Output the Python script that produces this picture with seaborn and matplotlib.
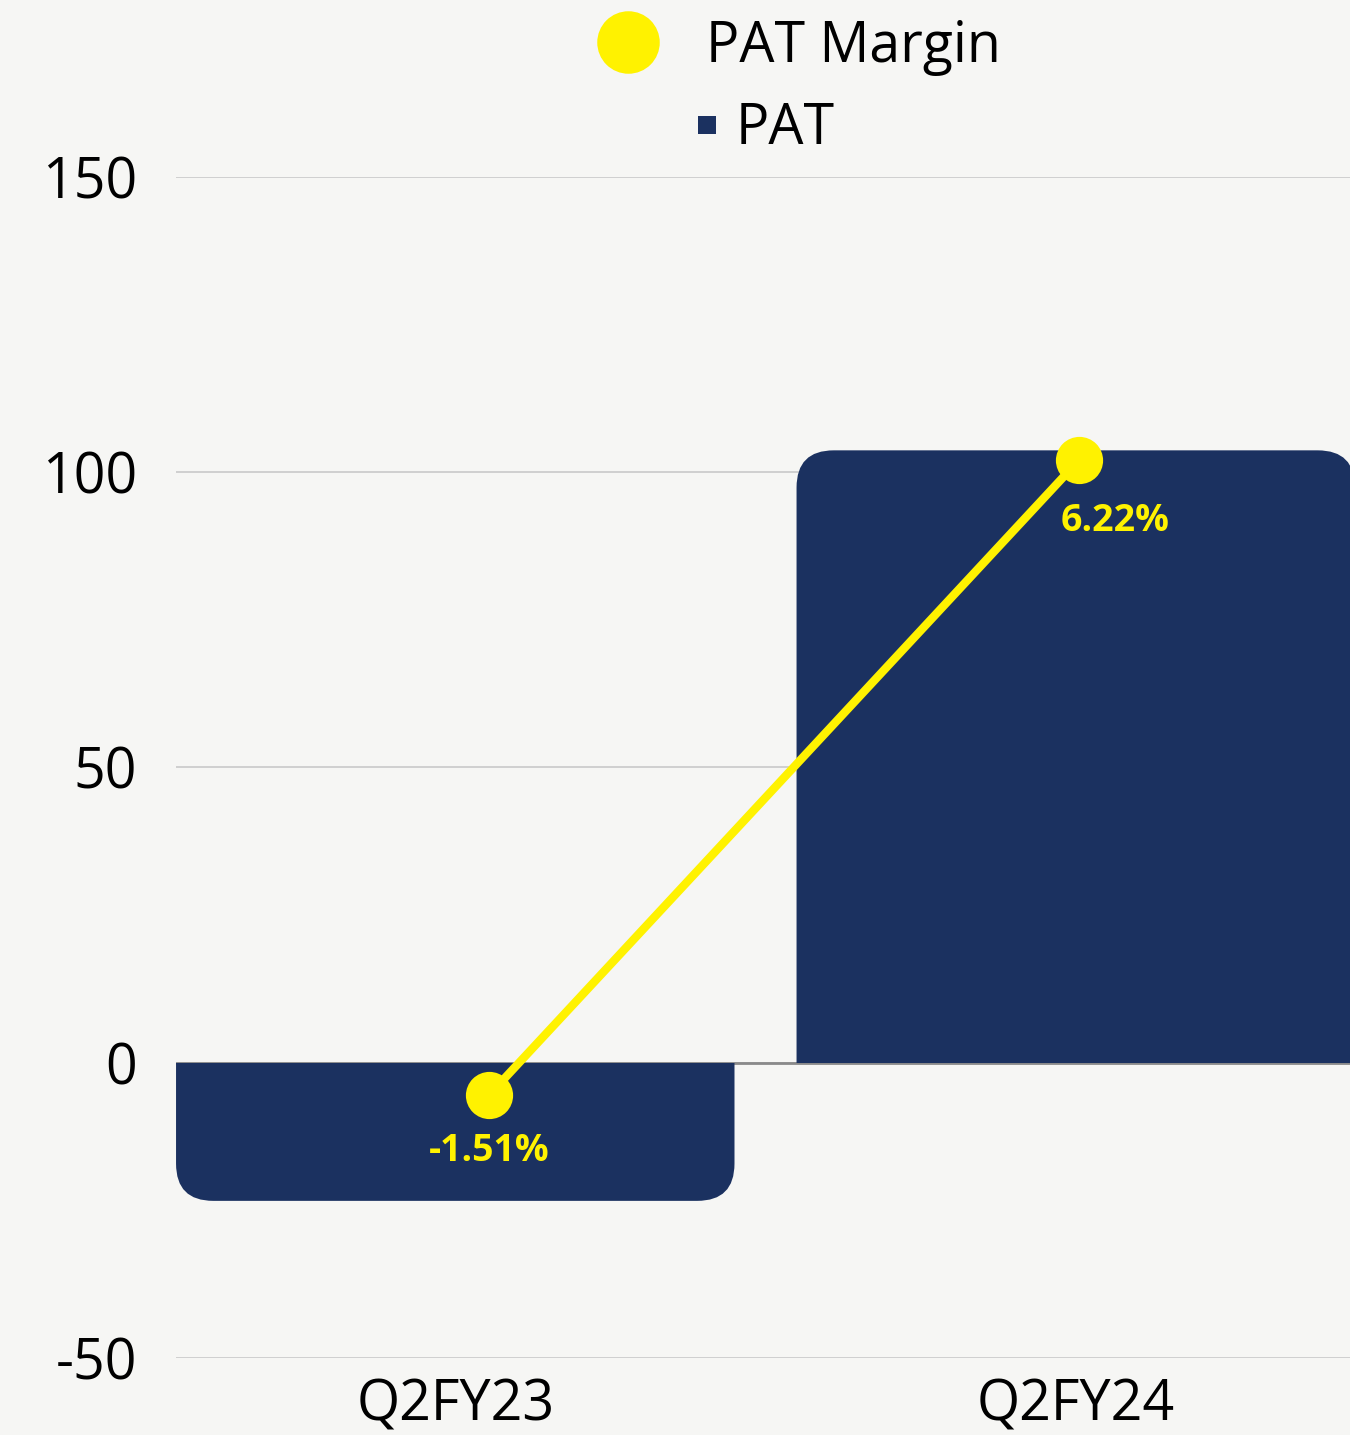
import numpy as np
import pandas as pd
import matplotlib
matplotlib.use('Agg')
import matplotlib.pyplot as plt
import seaborn as sns
from matplotlib.patches import FancyBboxPatch, Rectangle
from matplotlib.lines import Line2D

#=====================
# DATA
#=====================
quarters = ['Q2FY23', 'Q2FY24']
pat = [-23.4, 103.7]
pat_margin = [-1.51, 6.22]
margin_labels = ['-1.51%', '6.22%']
y_ticks = [-50, 0, 50, 100, 150]

navy = '#1b3160'
yellow = '#fff200'
bg = '#f6f6f4'

sns.set_theme(style='white')
plt.rcParams['font.family'] = ['Open Sans', 'DejaVu Sans']
plt.rcParams['axes.unicode_minus'] = False
plt.rcParams['text.color'] = 'black'

#=====================
# FIGURE
#=====================
fig = plt.figure(figsize=(13.5, 14.35), dpi=100, facecolor=bg)
rect = [0.1304, 0.0537, 0.8733, 0.823]
ax = fig.add_axes(rect)
ax.set_facecolor('none')

df = pd.DataFrame({'quarter': quarters, 'pat': pat})
sns.barplot(data=df, x='quarter', y='pat', color=navy, width=0.9,
            saturation=1, ax=ax, zorder=2)

ax.set_xlim(-0.45, 1.45)
ax.set_ylim(-50, 150)

# swap each bar for a rounded box, clipped at zero so only the outer end is round
r_x, r_y = 0.06, 6.3
for p in list(ax.patches):
    x0, w, h = p.get_x(), p.get_width(), p.get_height()
    start = -np.sign(h) * 2 * r_y
    lo, hi = sorted([start, h])
    box = FancyBboxPatch((x0, lo), w, hi - lo,
                         boxstyle=f"round,pad=0,rounding_size={r_x}",
                         mutation_aspect=r_y / r_x,
                         facecolor=navy, edgecolor='none', linewidth=0, zorder=2)
    ax.add_patch(box)
    clip = Rectangle((x0 - 0.1, min(0, h)), w + 0.2, abs(h), transform=ax.transData)
    box.set_clip_path(clip)
    p.set_visible(False)

ax.set_yticks(y_ticks)
ax.grid(axis='y', color='#c9c9c9', linewidth=1.2, zorder=0)
ax.axhline(0, color='#8a8a8a', linewidth=2, zorder=1)
ax.set_axisbelow(True)
for s in ax.spines.values():
    s.set_visible(False)
ax.set_xlabel('')
ax.set_ylabel('')
ax.tick_params(axis='y', labelsize=40, pad=28, length=0, labelcolor='black')
ax.tick_params(axis='x', labelsize=40, pad=14, length=0, labelcolor='black')

#=====================
# PAT MARGIN LINE
#=====================
ax2 = fig.add_axes(rect)
ax2.set_facecolor('none')
sns.lineplot(x=[0, 1], y=pat_margin, color=yellow, linewidth=6,
             marker='o', markersize=34, markeredgewidth=0, ax=ax2)
ax2.set_xlim(-0.5305, 1.468)
ax2.set_ylim(-4.71, 9.67)
ax2.axis('off')

offsets = [(0, -40), (26, -44)]
for i, (v, lab) in enumerate(zip(pat_margin, margin_labels)):
    ax2.annotate(lab, (i, v), xytext=offsets[i], textcoords='offset points',
                 ha='center', va='center', color=yellow, fontsize=27,
                 fontweight='bold')

#=====================
# LEGEND
#=====================
h1 = Line2D([], [], marker='o', color=yellow, ls='', markersize=45, markeredgewidth=0)
fig.legend(handles=[h1], labels=['PAT Margin'], loc='center',
           bbox_to_anchor=(796 / 1350, 1 - 47 / 1435), frameon=False,
           fontsize=40, handlelength=1.3, handletextpad=0.75, labelcolor='black')
h2 = Line2D([], [], marker='s', color=navy, ls='', markersize=13, markeredgewidth=0)
fig.legend(handles=[h2], labels=['PAT'], loc='center',
           bbox_to_anchor=(764 / 1350, 1 - 130 / 1435), frameon=False,
           fontsize=40, handlelength=0.5, handletextpad=0.25, labelcolor='black')

fig.savefig('out.png', dpi=100, facecolor=bg)
